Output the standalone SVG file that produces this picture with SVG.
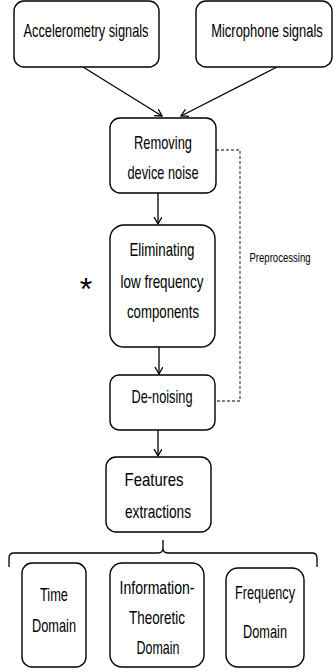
<svg xmlns="http://www.w3.org/2000/svg" width="334" height="672" viewBox="0 0 334 672">
<style>
.box{fill:#fff;stroke:#000;stroke-width:1.4}
.t{font-family:"Liberation Sans",Arial,sans-serif;font-size:19px;fill:#000;text-anchor:middle}
.s{font-family:"Liberation Sans",Arial,sans-serif;font-size:13px;fill:#000;text-anchor:middle}
.c{stroke:#000;stroke-width:1.3;fill:none}
.d{stroke:#555;stroke-width:1.3;fill:none;stroke-dasharray:3,2}
</style>
<defs>
<marker id="ah" markerWidth="10" markerHeight="10" refX="7" refY="4" orient="auto" markerUnits="userSpaceOnUse">
<path d="M0,0 L7,4 L0,8" fill="none" stroke="#000" stroke-width="1.3"/>
</marker>
</defs>
<g id="connectors">
<path class="c" d="M83,67 L162,116" marker-end="url(#ah)"/>
<path class="c" d="M277,67 L181,116" marker-end="url(#ah)"/>
<path class="c" d="M158,193 L158,224" marker-end="url(#ah)"/>
<path class="c" d="M159,347 L159,374" marker-end="url(#ah)"/>
<path class="c" d="M158,430 L158,456" marker-end="url(#ah)"/>
<path class="d" d="M216,150 H240 V401 H215"/>
<path class="c" d="M163,540 V548 Q163,553 158,553 H14 Q9,553 9,558 V567 M163,548 Q163,553 168,553 H312 Q317,553 317,558 V567"/>
</g>
<g id="accelerometry"><rect class="box" x="14" y="1" width="145" height="66" rx="10"/><text class="t" x="86" y="37" textLength="125" lengthAdjust="spacingAndGlyphs">Accelerometry signals</text></g>
<g id="microphone"><rect class="box" x="196" y="1" width="136" height="66" rx="10"/><text class="t" transform="matrix(0.683,0,0,1,267,37)" x="0" y="0">Microphone signals</text></g>
<g id="removing"><rect class="box" x="110" y="118" width="106" height="75" rx="10"/><text class="t" x="163" y="149" textLength="58" lengthAdjust="spacingAndGlyphs">Removing</text><text class="t" x="163" y="179" textLength="71" lengthAdjust="spacingAndGlyphs">device noise</text></g>
<g id="eliminating"><rect class="box" x="110" y="225" width="105" height="122" rx="14"/><text class="t" x="162" y="256" textLength="65" lengthAdjust="spacingAndGlyphs">Eliminating</text><text class="t" x="162" y="288" textLength="83" lengthAdjust="spacingAndGlyphs">low frequency</text><text class="t" x="163" y="318" textLength="72" lengthAdjust="spacingAndGlyphs">components</text></g>
<g id="denoising"><rect class="box" x="110" y="375" width="105" height="55" rx="9"/><text class="t" x="162" y="403" textLength="61" lengthAdjust="spacingAndGlyphs">De-noising</text></g>
<g id="features"><rect class="box" x="106" y="457" width="105" height="75" rx="10"/><text class="t" x="154" y="486" textLength="59" lengthAdjust="spacingAndGlyphs">Features</text><text class="t" x="158" y="518" textLength="66" lengthAdjust="spacingAndGlyphs">extractions</text></g>
<g id="time"><rect class="box" x="22" y="563" width="64" height="104" rx="10"/><text class="t" x="54" y="601" textLength="28" lengthAdjust="spacingAndGlyphs">Time</text><text class="t" x="54" y="632" textLength="44" lengthAdjust="spacingAndGlyphs">Domain</text></g>
<g id="info"><rect class="box" x="110" y="563" width="94" height="104" rx="12"/><text class="t" x="157" y="594" textLength="75" lengthAdjust="spacingAndGlyphs">Information-</text><text class="t" x="157" y="624" textLength="56" lengthAdjust="spacingAndGlyphs">Theoretic</text><text class="t" x="158" y="654" textLength="43" lengthAdjust="spacingAndGlyphs">Domain</text></g>
<g id="frequency"><rect class="box" x="226" y="568" width="78" height="99" rx="12"/><text class="t" x="265" y="599" textLength="60" lengthAdjust="spacingAndGlyphs">Frequency</text><text class="t" x="265" y="638" textLength="44" lengthAdjust="spacingAndGlyphs">Domain</text></g>
<text class="s" x="280" y="262" textLength="61" lengthAdjust="spacingAndGlyphs">Preprocessing</text>
<text x="86" y="300" style="font-family:'Liberation Sans',Arial,sans-serif;font-size:32px;text-anchor:middle">*</text>
</svg>
